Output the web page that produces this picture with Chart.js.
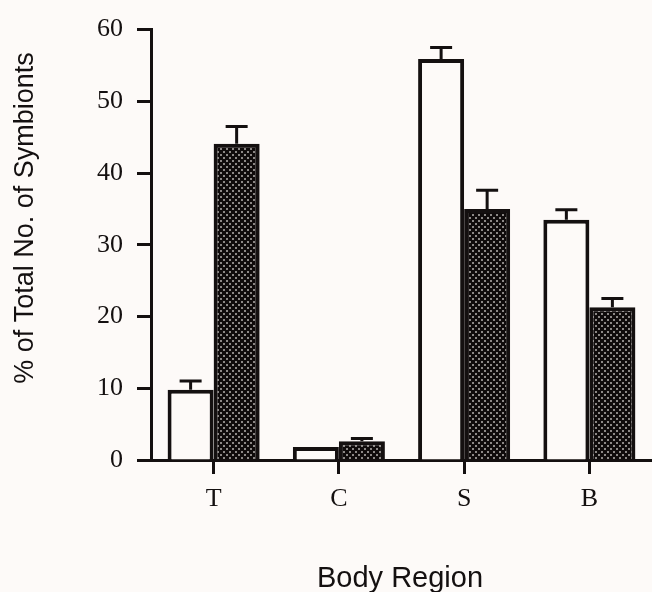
<!DOCTYPE html>
<html>
<head>
<meta charset="utf-8">
<title>Body region distribution</title>
<script src="https://cdn.jsdelivr.net/npm/chart.js@4/dist/chart.umd.min.js"></script>
<style>
  html, body { margin: 0; padding: 0; background: #fdfaf8; }
  #chart { display: block; }
</style>
</head>
<body>
<canvas id="chart" width="652" height="592"></canvas>
<script>
// values (percent of total symbionts)
const categories = ['T', 'C', 'S', 'B'];
const openValues = [9.8, 1.8, 55.9, 33.5];
const openErrors = [1.2, 0, 1.6, 1.4];
const shadedValues = [44.1, 2.6, 35.0, 21.3];
const shadedErrors = [2.4, 0.4, 2.6, 1.2];
const yTicks = [0, 10, 20, 30, 40, 50, 60];

const INK = '#141010';
const PAPER = '#fdfaf8';
const SERIF = '"Liberation Serif", "Times New Roman", serif';
const SANS = '"Liberation Sans", Arial, sans-serif';

// dark stippled fill used by the second bar of each pair
function makeStipple() {
  const c = document.createElement('canvas');
  c.width = 6;
  c.height = 6;
  const g = c.getContext('2d');
  g.fillStyle = '#0f0b0b';
  g.fillRect(0, 0, 6, 6);
  g.fillStyle = '#8c8886';
  g.fillRect(1, 1, 2, 2);
  g.fillRect(4, 4, 2, 2);
  return g.createPattern(c, 'repeat');
}

// one-sided (upper) error bars with a flat cap
const errorBars = {
  id: 'errorBars',
  afterDatasetsDraw(chart) {
    const { ctx } = chart;
    const y = chart.scales.y;
    ctx.save();
    ctx.strokeStyle = INK;
    ctx.lineWidth = 3;
    chart.data.datasets.forEach((ds, i) => {
      chart.getDatasetMeta(i).data.forEach((bar, j) => {
        const e = ds.errors[j];
        if (!e) return;
        const top = y.getPixelForValue(ds.data[j] + e);
        ctx.beginPath();
        ctx.moveTo(bar.x, bar.y);
        ctx.lineTo(bar.x, top);
        ctx.moveTo(bar.x - 11, top);
        ctx.lineTo(bar.x + 11, top);
        ctx.stroke();
      });
    });
    ctx.restore();
  }
};

// axis titles placed where the original figure has them
const axisTitles = {
  id: 'axisTitles',
  afterDraw(chart) {
    const { ctx } = chart;
    ctx.save();
    ctx.fillStyle = INK;
    ctx.textAlign = 'center';
    ctx.textBaseline = 'alphabetic';
    ctx.font = '29px ' + SANS;
    ctx.fillText('Body Region', 400, 587);
    ctx.font = '27px ' + SANS;
    ctx.translate(33, 218);
    ctx.rotate(-Math.PI / 2);
    ctx.fillText('% of Total No. of Symbionts', 0, 0);
    ctx.restore();
  }
};

const axisLine = { color: INK, width: 3 };
const tickMarks = {
  drawOnChartArea: false,
  drawTicks: true,
  tickLength: 14,
  tickWidth: 3,
  tickColor: INK
};

new Chart(document.getElementById('chart'), {
  type: 'bar',
  data: {
    labels: categories,
    datasets: [{
      data: openValues,
      errors: openErrors,
      backgroundColor: PAPER,
      borderColor: INK,
      borderWidth: 4
    }, {
      data: shadedValues,
      errors: shadedErrors,
      backgroundColor: makeStipple(),
      borderColor: INK,
      borderWidth: 4
    }]
  },
  options: {
    responsive: false,
    animation: false,
    layout: { padding: { top: 18, right: 0, bottom: 0, left: 0 } },
    datasets: {
      bar: { categoryPercentage: 0.735, barPercentage: 1.0, borderSkipped: 'bottom' }
    },
    plugins: {
      legend: { display: false },
      tooltip: { enabled: false }
    },
    scales: {
      x: {
        grid: { ...tickMarks, offset: false },
        border: axisLine,
        ticks: { color: INK, font: { family: SERIF, size: 26 }, padding: 10 },
        afterFit: (s) => { s.height = 132; }
      },
      y: {
        min: 0,
        max: 60,
        grid: tickMarks,
        border: axisLine,
        afterBuildTicks: (s) => { s.ticks = yTicks.map(v => ({ value: v })); },
        ticks: { color: INK, font: { family: SERIF, size: 26 }, padding: 14 },
        afterFit: (s) => { s.width = 151; }
      }
    }
  },
  plugins: [errorBars, axisTitles]
});
</script>
</body>
</html>
